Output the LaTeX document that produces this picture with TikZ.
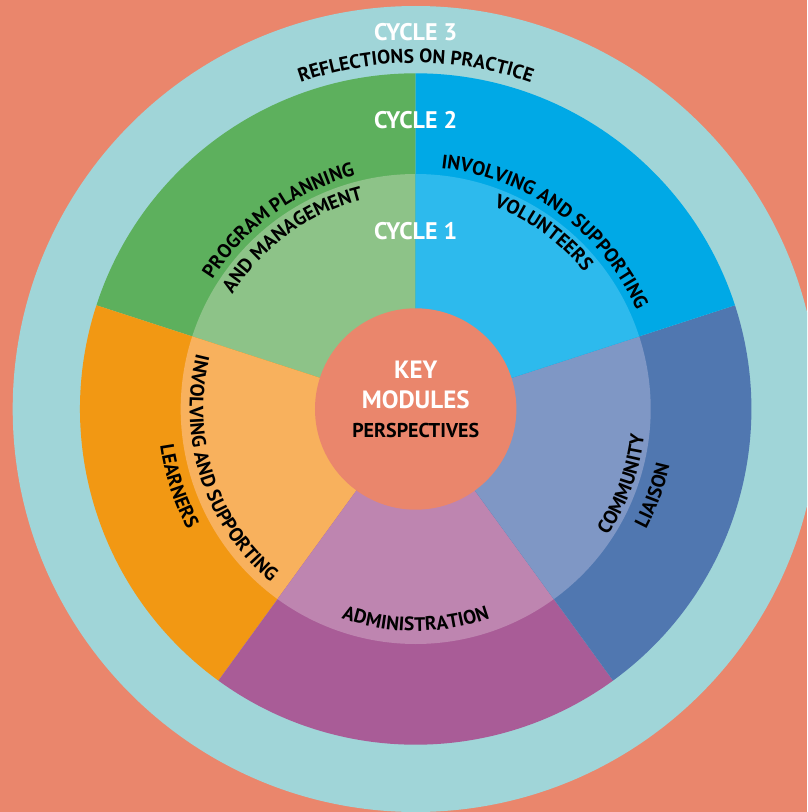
\documentclass[tikz,border=0pt]{standalone}
\usepackage{fontspec}
\setmainfont{PT Sans}
\usetikzlibrary{decorations.text}

\definecolor{salmon}{HTML}{EA866C}
\definecolor{tealring}{HTML}{A0D5D8}
\definecolor{greenout}{HTML}{5DB05D}
\definecolor{greenin}{HTML}{8DC388}
\definecolor{blueout}{HTML}{00A9E6}
\definecolor{bluein}{HTML}{2DBAED}
\definecolor{navyout}{HTML}{5077B0}
\definecolor{navyin}{HTML}{7F97C5}
\definecolor{plumout}{HTML}{A95C97}
\definecolor{plumin}{HTML}{BE85B0}
\definecolor{orangeout}{HTML}{F29813}
\definecolor{orangein}{HTML}{F8B15D}

\begin{document}
\begin{tikzpicture}[
    cycle/.style={text=white, font=\bfseries\fontsize{24}{24}\selectfont},
    hub/.style={text=white, font=\bfseries\fontsize{25}{25}\selectfont},
    arclabel/.style={decorate, decoration={text along path, text align=center,
        text={|\bfseries\fontsize{19.5}{19.5}\selectfont|#1}}}
  ]

  \useasboundingbox (-415.7pt,-403pt) rectangle (391.3pt,409pt);
  \clip (-415.7pt,-403pt) rectangle (391.3pt,409pt);
  \fill[salmon] (-415.7pt,-403pt) rectangle (391.3pt,409pt);
  \fill[tealring] (0,0) circle[radius=403pt];

  % five modules, outer and inner ring
  \foreach \a/\co/\ci in {90/greenout/greenin, 162/orangeout/orangein,
      234/plumout/plumin, 306/navyout/navyin, 18/blueout/bluein} {
    \fill[\co] (0,0) -- (\a:335.7pt) arc[start angle=\a, delta angle=72, radius=335.7pt] -- cycle;
    \fill[\ci] (0,0) -- (\a:235pt) arc[start angle=\a, delta angle=72, radius=235pt] -- cycle;
  }
  \fill[salmon] (0,0) circle[radius=100.7pt];

  \node[cycle] (cyc3) at (0,377pt) {CYCLE 3};
  \node[cycle] (cyc2) at (0,289pt) {CYCLE 2};
  \node[cycle] (cyc1) at (0,178pt) {CYCLE 1};
  \node[hub] (key) at (0,39pt) {KEY};
  \node[hub] (modules) at (0,9.5pt) {MODULES};
  \node[font=\bfseries\fontsize{20}{20}\selectfont] (persp) at (0,-21.8pt) {PERSPECTIVES};

  % labels along the rings
  \path[arclabel={REFLECTIONS ON PRACTICE}] (160:346pt) arc[start angle=160, end angle=20, radius=346pt];
  \path[arclabel={PROGRAM PLANNING}] (196:241pt) arc[start angle=196, end angle=56, radius=241pt];
  \path[arclabel={AND MANAGEMENT}] (196:216pt) arc[start angle=196, end angle=56, radius=216pt];
  \path[arclabel={INVOLVING AND SUPPORTING}] (124:242pt) arc[start angle=124, end angle=-16, radius=242pt];
  \path[arclabel={VOLUNTEERS}] (124:217pt) arc[start angle=124, end angle=-16, radius=217pt];
  \path[arclabel={INVOLVING AND SUPPORTING}] (128:226pt) arc[start angle=128, end angle=268, radius=226pt];
  \path[arclabel={LEARNERS}] (128:258pt) arc[start angle=128, end angle=268, radius=258pt];
  \path[arclabel={ADMINISTRATION}] (200:222pt) arc[start angle=200, end angle=340, radius=222pt];
  \path[arclabel={COMMUNITY}] (270:230pt) arc[start angle=270, end angle=410, radius=230pt];
  \path[arclabel={LIAISON}] (270:260pt) arc[start angle=270, end angle=410, radius=260pt];

\end{tikzpicture}
\end{document}
